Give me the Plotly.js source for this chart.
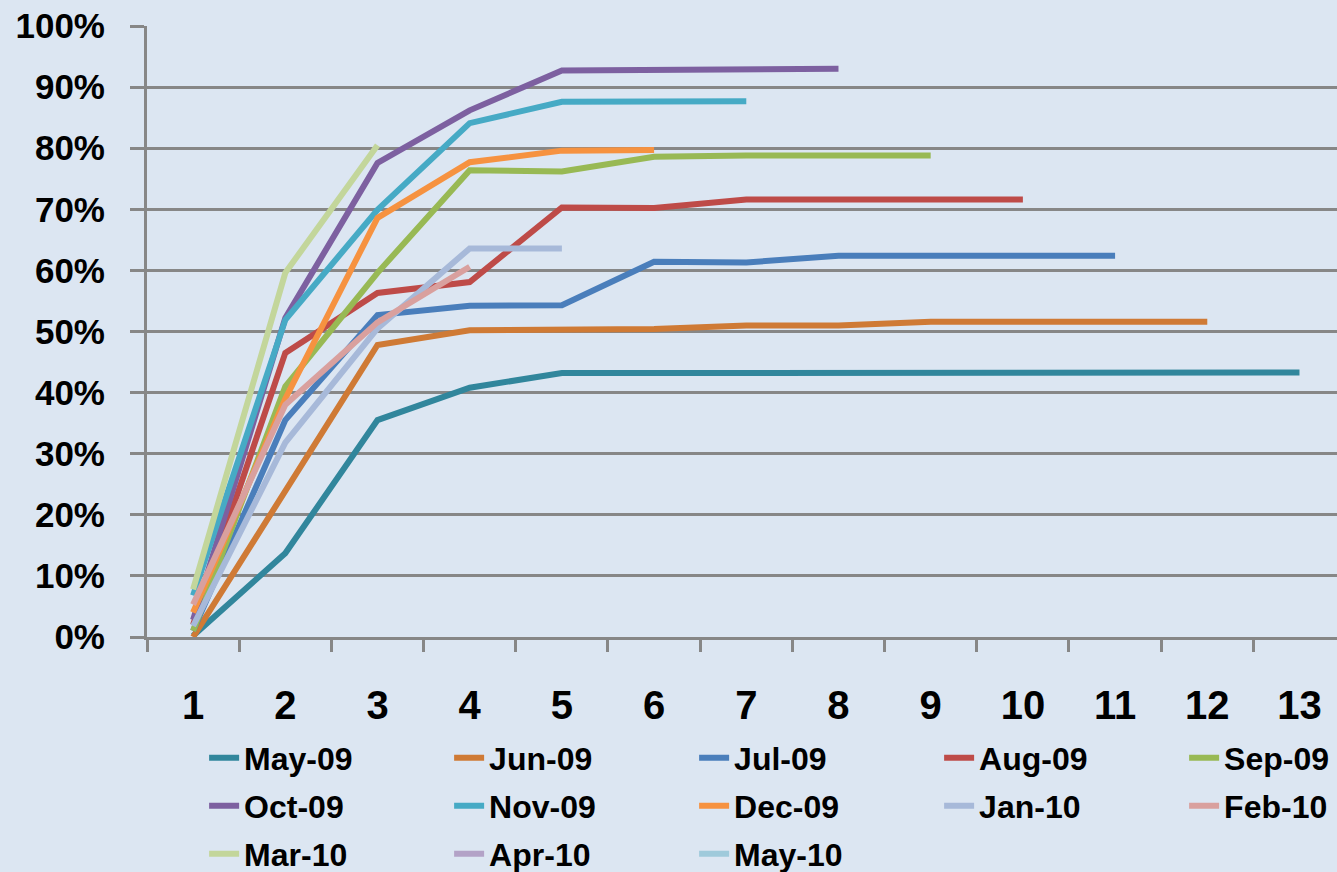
<!DOCTYPE html>
<html>
<head>
<meta charset="utf-8">
<script src="https://cdn.plot.ly/plotly-3.0.1.min.js"></script>
<style>
html,body{margin:0;padding:0;background:#dce6f2;overflow:hidden;}
#chart{width:1337px;height:872px;}
</style>
</head>
<body>
<div id="chart"></div>
<script>
// Periods (months since start)
const periods = [1,2,3,4,5,6,7,8,9,10,11,12,13];
const tickLabels = ["1","2","3","4","5","6","7","8","9","10","11","12","13"];

// Series names
const seriesNames = ["May-09","Jun-09","Jul-09","Aug-09","Sep-09","Oct-09","Nov-09","Dec-09","Jan-10","Feb-10","Mar-10","Apr-10","May-10"];

// Cumulative values (fractions)
const may09 = [0.002, 0.137, 0.355, 0.408, 0.432, 0.432, 0.432, 0.433, 0.433, 0.433, 0.433, 0.433, 0.433];
const jun09 = [0.000, 0.240, 0.478, 0.502, 0.504, 0.504, 0.510, 0.510, 0.516, 0.516, 0.516, 0.516];
const jul09 = [0.010, 0.355, 0.527, 0.542, 0.543, 0.614, 0.613, 0.624, 0.624, 0.624, 0.624];
const aug09 = [0.020, 0.465, 0.563, 0.581, 0.703, 0.702, 0.716, 0.716, 0.716, 0.716];
const sep09 = [0.010, 0.410, 0.596, 0.764, 0.762, 0.786, 0.788, 0.788, 0.788];
const oct09 = [0.028, 0.522, 0.776, 0.862, 0.927, 0.928, 0.929, 0.930];
const nov09 = [0.068, 0.519, 0.699, 0.841, 0.876, 0.877, 0.877];
const dec09 = [0.040, 0.390, 0.686, 0.777, 0.796, 0.797];
const jan10 = [0.018, 0.318, 0.505, 0.636, 0.636];
const feb10 = [0.053, 0.380, 0.515, 0.606];
const mar10 = [0.078, 0.596, 0.805];
const apr10 = [0.035];
const may10 = [0.060];

const seriesValues = [may09, jun09, jul09, aug09, sep09, oct09, nov09, dec09, jan10, feb10, mar10, apr10, may10];
const seriesColors = ["#31869c","#cf7a35","#4a7ebb","#be4b48","#98b954","#7d60a0","#46aac5","#f69240","#a7b9d9","#d9a09e","#c3d69b","#b3a2c7","#9fcadb"];
const legendOf = ["legend","legend","legend","legend","legend","legend2","legend2","legend2","legend2","legend2","legend3","legend3","legend3"];
const rowEnd = [false,false,false,false,true,false,false,false,false,true,false,false,false];

const traces = seriesNames.map((name, i) => {
  const t = {
    type: "scatter",
    mode: "lines",
    name: name,
    x: periods.slice(0, seriesValues[i].length),
    y: seriesValues[i],
    line: {color: seriesColors[i], width: 6},
    legend: legendOf[i],
    hoverinfo: "skip"
  };
  if (rowEnd[i]) t.legendwidth = 100;
  return t;
});

// helper trace for the between-category tick marks axis
traces.push({type:"scatter", mode:"lines", x:[], y:[], xaxis:"x2", showlegend:false, hoverinfo:"skip"});

const gridC = "#878787";
const xr = [0.5, 13.407];
const legendFont = {family:"Liberation Sans, Arial, sans-serif", size:32, weight:"bold", color:"#000"};
const legendBase = {orientation:"h", xanchor:"left", yanchor:"middle", x:0.048, yref:"container", entrywidth:200, entrywidthmode:"pixels", bgcolor:"rgba(0,0,0,0)", borderwidth:0, font:legendFont, itemclick:false, itemdoubleclick:false};

const layout = {
  width:1337, height:872,
  paper_bgcolor:"#dce6f2", plot_bgcolor:"#dce6f2",
  margin:{l:147, r:0, t:26, b:235, pad:0, autoexpand:false},
  showlegend:true,
  hovermode:false,
  xaxis:{
    range:xr, tickmode:"array", tickvals:periods, ticktext:tickLabels,
    ticks:"", showgrid:false, zeroline:false,
    showline:true, linecolor:gridC, linewidth:3, layer:"below traces",
    ticklabelstandoff:31,
    tickfont:{family:"Liberation Sans Narrow, Liberation Sans, Arial, sans-serif", size:40, weight:"bold", color:"#000"}
  },
  xaxis2:{
    overlaying:"x", anchor:"y", side:"bottom", range:xr,
    tickmode:"array", tickvals:[0.5,1.5,2.5,3.5,4.5,5.5,6.5,7.5,8.5,9.5,10.5,11.5,12.5],
    ticks:"outside", ticklen:14, tickwidth:3, tickcolor:gridC,
    showticklabels:false, showgrid:false, zeroline:false, showline:false, layer:"below traces"
  },
  yaxis:{
    range:[0,1], tickmode:"linear", tick0:0, dtick:0.1, tickformat:".0%",
    showgrid:true, gridcolor:gridC, gridwidth:3, zeroline:false,
    showline:true, linecolor:gridC, linewidth:3,
    ticks:"outside", ticklen:14, tickwidth:3, tickcolor:gridC,
    ticklabelstandoff:18, layer:"below traces",
    tickfont:{family:"Liberation Sans, Arial, sans-serif", size:35, weight:"bold", color:"#000"}
  },
  legend: Object.assign({}, legendBase, {y:0.1308}),
  legend2: Object.assign({}, legendBase, {y:0.0757}),
  legend3: Object.assign({}, legendBase, {y:0.0207})
};

Plotly.newPlot("chart", traces, layout, {displayModeBar:false, staticPlot:true});
</script>
</body>
</html>
